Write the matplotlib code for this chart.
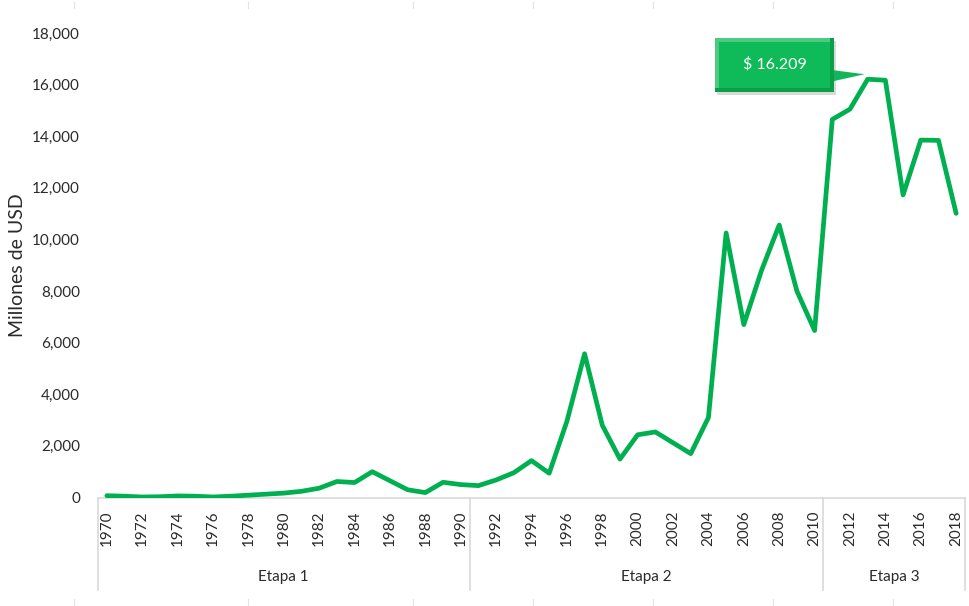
import matplotlib
matplotlib.use("Agg")
import matplotlib.pyplot as plt
from matplotlib.patches import Rectangle, Polygon
from matplotlib.lines import Line2D
from matplotlib.transforms import ScaledTranslation, blended_transform_factory
from matplotlib.ticker import FuncFormatter

plt.rcParams['font.family'] = ['Lato', 'DejaVu Sans']

years = list(range(1970, 2019))
values = [70, 50, 20, 30, 60, 50, 20, 50, 90, 130,
          170, 240, 360, 620, 580, 1000, 650, 300, 190, 590,
          500, 460, 680, 960, 1430, 940, 2950, 5570, 2800, 1490,
          2430, 2540, 2120, 1700, 3100, 10250, 6700, 8800, 10560, 8000,
          6470, 14650, 15050, 16209, 16170, 11725, 13850, 13840, 11010]

stage_names = ["Etapa 1", "Etapa 2", "Etapa 3"]
stage_start = [1970, 1991, 2011]
stage_end = [1990, 2010, 2018]

y_ticks = [0, 2000, 4000, 6000, 8000, 10000, 12000, 14000, 16000, 18000]
x_tick_labels = [str(y) for y in years if y % 2 == 0]

line_color = "#00B050"
text_color = "#2b2b2b"

fig = plt.figure(figsize=(9.69, 6.06), dpi=100)
ax = fig.add_axes([98/969, 1 - 497.5/606, (965-98)/969, (497.5-33)/606])

ax.plot(years, values, color=line_color, lw=3.4, solid_joinstyle='round',
        solid_capstyle='round', zorder=3)

ax.set_xlim(years[0] - 0.5, years[-1] + 0.5)
ax.set_ylim(y_ticks[0], y_ticks[-1])
ax.set_yticks(y_ticks)
ax.yaxis.set_major_formatter(FuncFormatter(lambda v, p: f"{v:,.0f}"))
ax.set_xticks([y for y in years if y % 2 == 0])
ax.set_xticklabels(x_tick_labels, rotation=90)
ax.tick_params(axis='y', length=0, pad=13, labelsize=11, labelcolor=text_color)
ax.tick_params(axis='x', length=0, pad=9, labelsize=11, labelcolor=text_color)

for s in ['top', 'right', 'left']:
    ax.spines[s].set_visible(False)
ax.spines['bottom'].set_color('#d9d9d9')
ax.spines['bottom'].set_linewidth(1.2)

ax.set_ylabel("Millones de USD", fontsize=14, color=text_color)
ax.yaxis.set_label_coords(-72/867, 0.5)

# stage separators and labels
bt = blended_transform_factory(ax.transData, ax.transAxes)
sep_bottom = -(590 - 497.5) / 464.5
label_y = -(577 - 497.5) / 464.5
bounds = sorted(set([s - 0.5 for s in stage_start] + [e + 0.5 for e in stage_end]))
for b in bounds:
    ax.plot([b, b], [0, sep_bottom], transform=bt, color='#d9d9d9', lw=1.2,
            clip_on=False)
for name, s, e in zip(stage_names, stage_start, stage_end):
    ax.text((s + e) / 2, label_y, name, transform=bt, ha='center', va='center',
            fontsize=11, color=text_color)

# faint crop marks at top and bottom edges of the image
for xm in [74, 248, 413, 533, 653, 773, 893]:
    fig.add_artist(Line2D([xm/969, xm/969], [1 - 2/606, 1 - 8/606],
                          transform=fig.transFigure, color='#e3e3e3', lw=0.8))
    fig.add_artist(Line2D([xm/969, xm/969], [0, 7/606],
                          transform=fig.transFigure, color='#e3e3e3', lw=0.8))

# callout for the maximum
imax = max(range(len(values)), key=lambda i: values[i])
px, py = years[imax], values[imax]
tr = fig.dpi_scale_trans + ScaledTranslation(px, py, ax.transData)
bx0, bx1, by0, by1 = -1.525, -0.335, -0.13, 0.41
ax.add_patch(Rectangle((bx0 + 0.02, by0 - 0.03), bx1 - bx0, by1 - by0,
                       transform=tr, facecolor='#000000', alpha=0.15,
                       edgecolor='none', clip_on=False, zorder=4))
ax.add_patch(Polygon([(bx1 - 0.01, 0.09), (bx1 - 0.01, -0.02), (-0.03, 0.05)],
                     closed=True, transform=tr, facecolor='#12b658',
                     edgecolor='none', clip_on=False, zorder=5))
ax.add_patch(Rectangle((bx0, by0), bx1 - bx0, by1 - by0, transform=tr,
                       facecolor='#0a9f48', edgecolor='none', clip_on=False, zorder=5))
ax.add_patch(Rectangle((bx0, by0 + 0.04), bx1 - bx0 - 0.04, by1 - by0 - 0.04,
                       transform=tr, facecolor='#4cca80', edgecolor='none',
                       clip_on=False, zorder=5))
ax.add_patch(Rectangle((bx0 + 0.04, by0 + 0.04), bx1 - bx0 - 0.08, by1 - by0 - 0.08,
                       transform=tr, facecolor='#0fbb58', edgecolor='none',
                       clip_on=False, zorder=6))
label = "$ " + f"{py:,.0f}".replace(",", ".")
ax.text((bx0 + bx1) / 2, (by0 + by1) / 2 + 0.01, label, transform=tr,
        ha='center', va='center', color='white', fontsize=11.5, zorder=7)

fig.savefig("out.png", dpi=100)
